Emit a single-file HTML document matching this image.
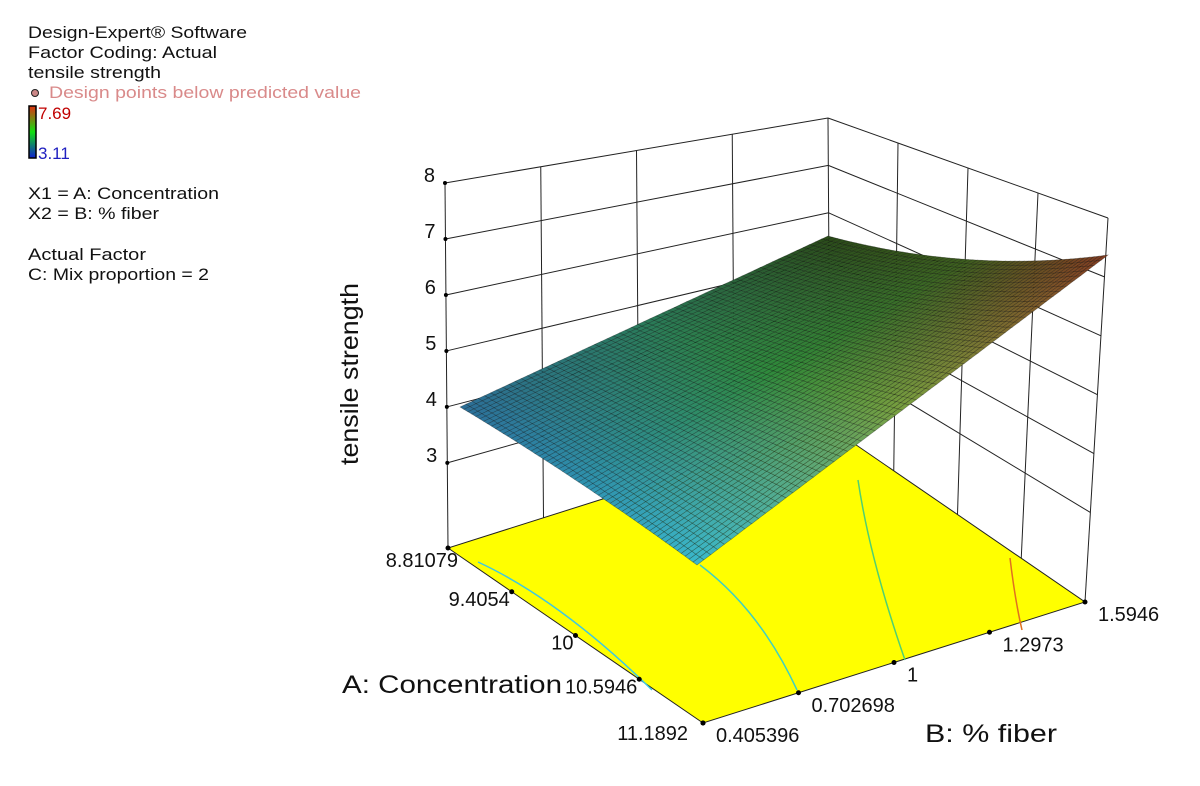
<!DOCTYPE html>
<html><head><meta charset="utf-8"><style>
body{margin:0;background:#fff;}
svg{display:block;font-family:"Liberation Sans",Arial,sans-serif;}
</style></head><body>
<svg id="s" width="1200" height="786" viewBox="0 0 1200 786" xmlns="http://www.w3.org/2000/svg">
<rect width="1200" height="786" fill="#fff"/>
<g font-size="17" fill="#111">
<text x="28" y="38" textLength="219" lengthAdjust="spacingAndGlyphs">Design-Expert® Software</text>
<text x="28" y="58" textLength="189" lengthAdjust="spacingAndGlyphs">Factor Coding: Actual</text>
<text x="28" y="78" textLength="133" lengthAdjust="spacingAndGlyphs">tensile strength</text>
<circle cx="35" cy="93" r="3.5" fill="#c88" stroke="#222" stroke-width="1"/>
<text x="49" y="98" fill="#d98a8a" textLength="312" lengthAdjust="spacingAndGlyphs">Design points below predicted value</text>
<text x="38" y="119" fill="#c00000">7.69</text>
<text x="38" y="159" fill="#2020c0">3.11</text>
<text x="28" y="199" textLength="191" lengthAdjust="spacingAndGlyphs">X1 = A: Concentration</text>
<text x="28" y="219" textLength="131" lengthAdjust="spacingAndGlyphs">X2 = B: % fiber</text>
<text x="28" y="260" textLength="118" lengthAdjust="spacingAndGlyphs">Actual Factor</text>
<text x="28" y="280" textLength="181" lengthAdjust="spacingAndGlyphs">C: Mix proportion = 2</text>
</g>
<defs><linearGradient id="cb" x1="0" y1="0" x2="0" y2="1">
<stop offset="0" stop-color="#e03010"/><stop offset="0.5" stop-color="#10e010"/><stop offset="1" stop-color="#1020d0"/></linearGradient></defs>
<rect x="29" y="106" width="7" height="52" fill="url(#cb)" stroke="#000" stroke-width="1.5"/>
<g id="g"></g>
<text transform="translate(358,374) rotate(-90)" text-anchor="middle" font-size="25" fill="#111" textLength="182" lengthAdjust="spacingAndGlyphs">tensile strength</text>
<text x="342" y="693" font-size="25" fill="#111" textLength="220" lengthAdjust="spacingAndGlyphs">A: Concentration</text>
<text x="925" y="742" font-size="25" fill="#111" textLength="132" lengthAdjust="spacingAndGlyphs">B: % fiber</text>
</svg>
<script>
var g=document.getElementById('g'),NS='http://www.w3.org/2000/svg';
function el(t,a){var e=document.createElementNS(NS,t);for(var k in a)e.setAttribute(k,a[k]);g.appendChild(e);return e;}
function L(p,q,t){return [p[0]+(q[0]-p[0])*t,p[1]+(q[1]-p[1])*t];}
var FL=[448,548],FF=[703,723],FR=[1085,602],FB=[830,427];
var TL=[445,183],TB=[828,118],TR=[1108,218];
var z0=1.48;
function fr(z){return (z-z0)/(8-z0);}
function lw(t,z){return L(L(FL,FB,t),L(TL,TB,t),fr(z));}
function rw(u,z){return L(L(FB,FR,u),L(TB,TR,u),fr(z));}
function line(p,q,w){el('line',{x1:p[0],y1:p[1],x2:q[0],y2:q[1],stroke:'#222','stroke-width':w||1});}
for(var z=3;z<=8;z++){line(lw(0,z),lw(1,z));line(rw(0,z),rw(1,z));}
[0.25,0.5,0.75].forEach(function(t){line(lw(t,z0),lw(t,8));line(rw(t,z0),rw(t,8));});
line(TL,FL);line(TB,FB);line(TR,FR);
for(var z=3;z<=8;z++){var p=lw(0,z);el('circle',{cx:p[0],cy:p[1],r:2,fill:'#000'});
var t=el('text',{x:p[0]-10,y:p[1]-1,'font-size':20,'text-anchor':'end',fill:'#111'});t.textContent=z;}
el('polygon',{points:[FL,FF,FR,FB].join(' '),fill:'#ffff00',stroke:'#222','stroke-width':1});
el('path',{d:'M478,562 Q560,600 652,690',stroke:'#40c8e0','stroke-width':1.5,fill:'none'});
el('path',{d:'M700,565 Q760,610 797,690',stroke:'#40d0c0','stroke-width':1.5,fill:'none'});
el('path',{d:'M858,480 Q870,560 905,660',stroke:'#50d070','stroke-width':1.5,fill:'none'});
el('path',{d:'M1010,558 Q1015,600 1022,630',stroke:'#e07020','stroke-width':1.5,fill:'none'});
var al=['8.81079','9.4054','10','10.5946','11.1892'],bl=['0.405396','0.702698','1','1.2973','1.5946'];
for(var i=0;i<5;i++){var p=L(FL,FF,i/4);el('circle',{cx:p[0],cy:p[1],r:2.5,fill:'#000'});
var t=el('text',{x:p[0]+(i==0?10:(i==4?-15:-2)),y:p[1]+(i==0?19:(i==4?17:14)),'font-size':20,'text-anchor':'end',fill:'#111'});t.textContent=al[i];
var q=L(FF,FR,i/4);el('circle',{cx:q[0],cy:q[1],r:2.5,fill:'#000'});
var t2=el('text',{x:q[0]+13,y:q[1]+19,'font-size':20,fill:'#111'});t2.textContent=bl[i];}
var S00=[460,407],S10=[697,565],S11=[1108,255],S01=[828,236];
function P(a,b){var x=(1-a)*(1-b)*S00[0]+a*(1-b)*S10[0]+a*b*S11[0]+(1-a)*b*S01[0];
var y=(1-a)*(1-b)*S00[1]+a*(1-b)*S10[1]+a*b*S11[1]+(1-a)*b*S01[1];
y+=4*a*(1-a)*(14*b-4*(1-b));return [x,y];}
function h(c){return [parseInt(c.substr(1,2),16),parseInt(c.substr(3,2),16),parseInt(c.substr(5,2),16)];}
var CG=[[h('#2c6e98'),h('#2e90b0'),h('#3ab8cc')],[h('#2a7a5a'),h('#2f8a3a'),h('#7aa040')],[h('#2a4a18'),h('#3e5e1e'),h('#853c22')]];
function col(a,b){var fa=a*2,fb=b*2,ia=Math.min(1,Math.floor(fa)),ib=Math.min(1,Math.floor(fb)),ta=fa-ia,tb=fb-ib,r=[];
for(var k=0;k<3;k++){r[k]=Math.round((1-ta)*(1-tb)*CG[ib][ia][k]+ta*(1-tb)*CG[ib][ia+1][k]+ta*tb*CG[ib+1][ia+1][k]+(1-ta)*tb*CG[ib+1][ia][k]);}
return 'rgb('+r.join(',')+')';}
var N=60;
for(var i=0;i<N;i++)for(var j=0;j<N;j++){var a=i/N,b=j/N,d=1/N;
var pts=[P(a,b),P(a+d,b),P(a+d,b+d),P(a,b+d)];
el('polygon',{points:pts.map(function(p){return p[0].toFixed(1)+','+p[1].toFixed(1)}).join(' '),fill:col(a+d/2,b+d/2),stroke:'rgba(0,0,0,0.35)','stroke-width':0.6});}
</script>
</body></html>
